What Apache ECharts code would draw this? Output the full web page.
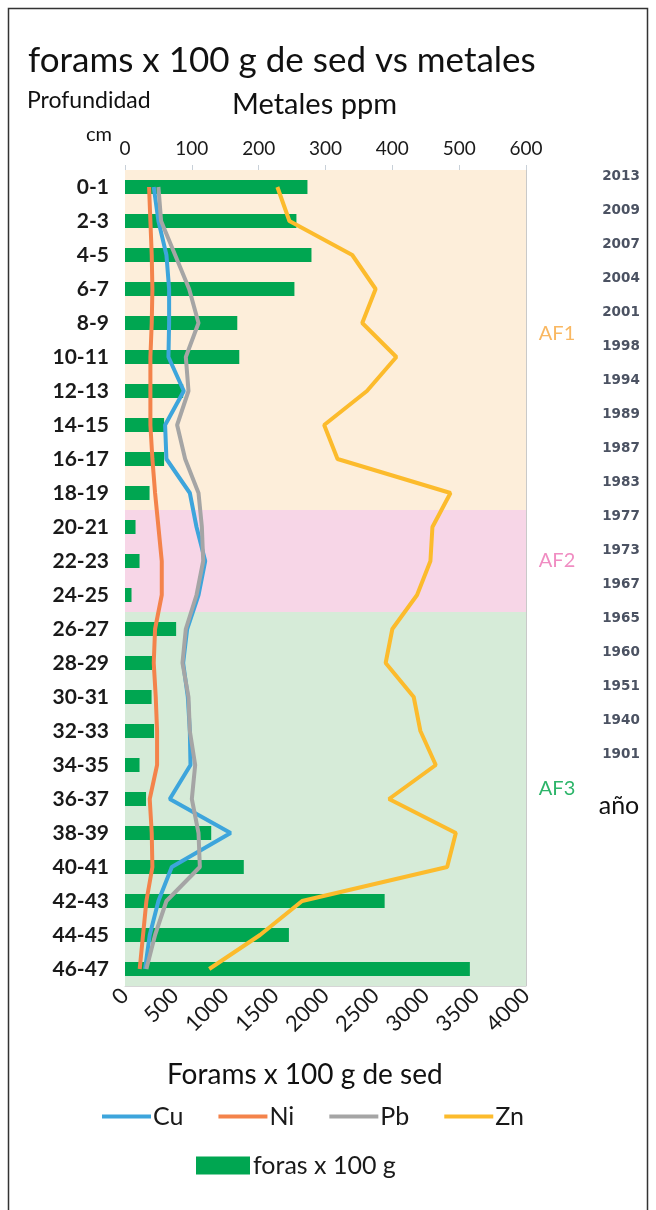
<!DOCTYPE html>
<html>
<head>
<meta charset="utf-8">
<script src="https://cdn.jsdelivr.net/npm/echarts@6/dist/echarts.min.js"></script>
<style>
html,body{margin:0;padding:0;background:#fff;}
#c{width:656px;height:1210px;}
</style>
</head>
<body>
<div id="c"></div>
<script>
const categories = ['0-1','2-3','4-5','6-7','8-9','10-11','12-13','14-15','16-17','18-19','20-21','22-23','24-25','26-27','28-29','30-31','32-33','34-35','36-37','38-39','40-41','42-43','44-45','46-47'];
const foras = [1820,1710,1860,1690,1120,1140,580,390,390,245,105,145,65,510,270,265,290,145,210,860,1185,2590,1635,3440];
const cu = [43,50,62,66,66,65,88,60,62,97,107,120,110,93,87,94,97,98,67,158,70,50,37,30];
const ni = [36,38,40,41,40,38,38,38,41,45,50,55,55,45,43,46,48,48,37,40,41,32,27,22];
const pb = [50,54,75,96,110,91,95,78,90,110,115,117,107,91,86,95,97,105,100,110,112,62,45,32];
const zn = [228,246,340,375,355,406,362,298,318,487,460,457,437,400,390,432,442,465,395,495,482,265,202,126];
const years = ['2013','2009','2007','2004','2001','1998','1994','1989','1987','1983','1977','1973','1967','1965','1960','1951','1940','1901'];
const ppmTicks = [0,100,200,300,400,500,600];
const foramTicks = [0,500,1000,1500,2000,2500,3000,3500,4000];
const zones = [
  {name:'AF1', from:0, to:10, fill:'#FDEEDA', text:'#F9B862'},
  {name:'AF2', from:10, to:13, fill:'#F7D6E7', text:'#F08DC2'},
  {name:'AF3', from:13, to:24, fill:'#D6EBD8', text:'#2DB56A'}
];

const FONT = 'Lato';
const chart = echarts.init(document.getElementById('c'), null, {renderer:'canvas'});

function pairs(arr){ return arr.map((v,i)=>[v, categories[i]]); }

const lineCommon = {
  type:'line', xAxisIndex:0, yAxisIndex:0, symbol:'none', smooth:false, z:5
};

const option = {
  backgroundColor:'#fff',
  animation:false,
  textStyle:{fontFamily:FONT},
  grid:{left:125, right:130, top:170, bottom:224, containLabel:false},
  xAxis:[
    {type:'value', position:'top', min:ppmTicks[0], max:ppmTicks[ppmTicks.length-1], interval:100,
     axisLine:{show:false}, axisTick:{show:true, length:5, lineStyle:{color:'#c8d0d8'}},
     axisLabel:{fontFamily:FONT, fontSize:19, color:'#1a1a1a', margin:12},
     splitLine:{show:true, lineStyle:{color:'#c9c9c9', width:1}}},
    {type:'value', position:'bottom', min:foramTicks[0], max:foramTicks[foramTicks.length-1], interval:500,
     axisLine:{show:true, lineStyle:{color:'#d6d6d6'}}, axisTick:{show:false},
     axisLabel:{fontFamily:FONT, fontSize:22, color:'#1a1a1a', rotate:45, margin:6, formatter:(v)=>String(v)},
     splitLine:{show:false}}
  ],
  yAxis:[
    {type:'category', data:categories, inverse:true,
     axisLine:{show:false}, axisTick:{show:false},
     axisLabel:{fontFamily:FONT, fontWeight:'bold', fontSize:21, color:'#1a1a1a', margin:16}},
    {type:'value', min:0, max:24, inverse:true, show:false}
  ],
  legend:[
    {data:['Cu','Ni','Pb','Zn'], left:97, top:1099, icon:'rect', itemWidth:49, itemHeight:4, itemGap:35,
     textStyle:{fontFamily:FONT, fontSize:25, color:'#1a1a1a', padding:[0,0,0,-3]}},
    {data:['foras x 100 g'], left:191, top:1148, icon:'rect', itemWidth:54, itemHeight:18, itemGap:10,
     textStyle:{fontFamily:FONT, fontSize:25, color:'#1a1a1a', padding:[0,0,0,-2]}}
  ],
  series:[
    {name:'bands', type:'line', xAxisIndex:0, yAxisIndex:1, data:[], z:-1, silent:true,
     markArea:{silent:true, data: zones.map(z=>[{yAxis:z.from, itemStyle:{color:z.fill}},{yAxis:z.to}])}},
    {name:'foras x 100 g', type:'bar', xAxisIndex:1, yAxisIndex:0, data:foras, barWidth:14,
     itemStyle:{color:'#00A651'}, z:3},
    Object.assign({name:'Cu', data:pairs(cu), lineStyle:{color:'#3DA5DC', width:4}, itemStyle:{color:'#3DA5DC'}}, lineCommon),
    Object.assign({name:'Ni', data:pairs(ni), lineStyle:{color:'#F4834B', width:4}, itemStyle:{color:'#F4834B'}}, lineCommon),
    Object.assign({name:'Pb', data:pairs(pb), lineStyle:{color:'#A5A5A5', width:4}, itemStyle:{color:'#A5A5A5'}}, lineCommon),
    Object.assign({name:'Zn', data:pairs(zn), lineStyle:{color:'#FCBB2C', width:4}, itemStyle:{color:'#FCBB2C'}}, lineCommon)
  ]
};
chart.setOption(option);

const g = [];
g.push({type:'rect', shape:{x:8.5, y:8.5, width:639, height:1220}, style:{fill:'none', stroke:'#333', lineWidth:1.5}, silent:true});
g.push({type:'text', left:28, top:43, style:{text:'forams x 100 g de sed vs metales', font:'35px '+FONT, fill:'#111'}});
g.push({type:'text', left:27, top:89, style:{text:'Profundidad', font:'23px '+FONT, fill:'#111'}});
g.push({type:'text', left:86, top:125, style:{text:'cm', font:'20px '+FONT, fill:'#111'}});
g.push({type:'text', left:232, top:90, style:{text:'Metales ppm', font:'29px '+FONT, fill:'#111'}});
g.push({type:'text', left:167, top:1061, style:{text:'Forams x 100 g de sed', font:'28px '+FONT, fill:'#111'}});
years.forEach((y,i)=>{
  const py = chart.convertToPixel({yAxisIndex:1}, i+0.18);
  g.push({type:'text', x:621, y:py, style:{text:y, font:'bold 13.5px "DejaVu Sans"', fill:'#4b5262', align:'center', verticalAlign:'middle'}});
});
const zonePos = [4.8, 11.5, 18.2];
zones.forEach((z,i)=>{
  const py = chart.convertToPixel({yAxisIndex:1}, zonePos[i]);
  g.push({type:'text', x:557, y:py, style:{text:z.name, font:'20px '+FONT, fill:z.text, align:'center', verticalAlign:'middle'}});
});
g.push({type:'text', x:619, y:806, style:{text:'año', font:'25px '+FONT, fill:'#111', align:'center', verticalAlign:'middle'}});
chart.setOption({graphic:g});
</script>
</body>
</html>
